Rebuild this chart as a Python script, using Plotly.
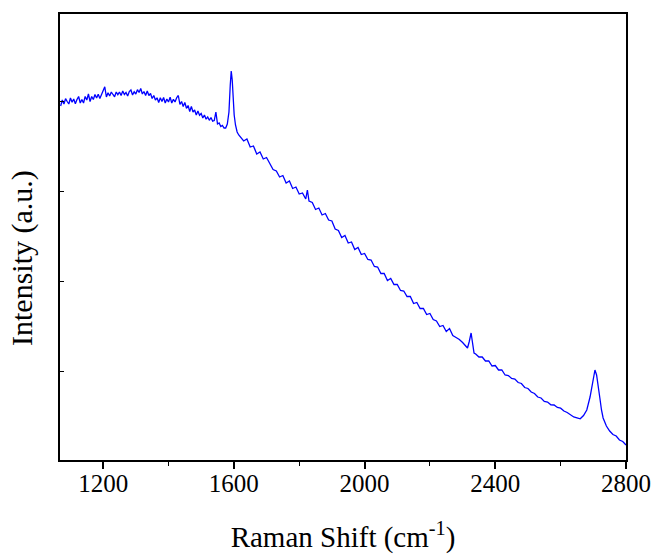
import plotly.graph_objects as go

# Raman shift (cm^-1)
raman_shift = [
    1070, 1075, 1080, 1085, 1090, 1095, 1100, 1105, 1110, 1115, 1120, 1125, 1130, 1135, 1140,
    1145, 1150, 1155, 1160, 1165, 1170, 1175, 1180, 1185, 1190, 1195, 1200, 1205, 1210, 1215,
    1220, 1225, 1230, 1235, 1240, 1245, 1250, 1255, 1260, 1265, 1270, 1275, 1280, 1285, 1290,
    1295, 1300, 1305, 1310, 1315, 1320, 1325, 1330, 1335, 1340, 1345, 1350, 1355, 1360, 1365,
    1370, 1375, 1380, 1385, 1390, 1395, 1400, 1405, 1410, 1415, 1420, 1425, 1430, 1435, 1440,
    1445, 1450, 1455, 1460, 1465, 1470, 1475, 1480, 1485, 1490, 1495, 1500, 1505, 1510, 1515,
    1520, 1525, 1530, 1535, 1540, 1545, 1550, 1555, 1560, 1565, 1570, 1575, 1580, 1585, 1589,
    1592, 1595, 1598, 1601, 1605, 1610, 1615, 1620, 1630, 1640, 1650, 1660, 1670, 1680, 1690,
    1700, 1710, 1720, 1730, 1740, 1750, 1760, 1770, 1780, 1790, 1800, 1810, 1820, 1825, 1830,
    1840, 1850, 1860, 1870, 1880, 1890, 1900, 1910, 1920, 1930, 1940, 1950, 1960, 1970, 1980,
    1990, 2000, 2010, 2020, 2030, 2040, 2050, 2060, 2070, 2080, 2090, 2100, 2110, 2120, 2130,
    2140, 2150, 2160, 2170, 2180, 2190, 2200, 2210, 2220, 2230, 2240, 2250, 2260, 2270, 2280,
    2290, 2300, 2310, 2315, 2320, 2326, 2330, 2335, 2340, 2350, 2360, 2370, 2380, 2390, 2400,
    2410, 2420, 2430, 2440, 2450, 2460, 2470, 2480, 2490, 2500, 2510, 2520, 2530, 2540, 2550,
    2560, 2570, 2580, 2590, 2600, 2610, 2620, 2630, 2640, 2650, 2660, 2670, 2680, 2690, 2695,
    2700, 2705, 2710, 2715, 2720, 2725, 2730, 2740, 2750, 2760, 2770, 2780, 2790, 2800,
]

# Intensity (a.u.)
intensity = [
    3540, 3600, 3560, 3613, 3585, 3560, 3620, 3577, 3610, 3563, 3605, 3635, 3570, 3605, 3570,
    3635, 3600, 3660, 3585, 3635, 3605, 3655, 3620, 3657, 3615, 3653, 3675, 3732, 3630, 3673,
    3640, 3680, 3655, 3632, 3680, 3653, 3680, 3645, 3690, 3655, 3675, 3640, 3685, 3700, 3650,
    3682, 3660, 3703, 3675, 3715, 3660, 3685, 3645, 3690, 3645, 3665, 3615, 3645, 3600, 3622,
    3575, 3622, 3585, 3625, 3570, 3610, 3580, 3628, 3570, 3607, 3580, 3623, 3645, 3555, 3585,
    3535, 3575, 3517, 3545, 3485, 3535, 3480, 3500, 3450, 3490, 3447, 3465, 3420, 3450, 3408,
    3430, 3397, 3425, 3388, 3395, 3480, 3360, 3370, 3335, 3345, 3320, 3320, 3360, 3480, 3750,
    3890, 3800, 3620, 3450, 3350, 3280, 3250, 3230, 3190, 3210, 3130, 3140, 3060, 3080, 3010,
    3025, 2960, 2905, 2890, 2830, 2845, 2770, 2790, 2715, 2730, 2660, 2670, 2610, 2700, 2590,
    2575, 2505, 2520, 2450, 2465, 2400, 2390, 2310, 2295, 2225, 2245, 2170, 2180, 2105, 2125,
    2055, 2065, 2005, 2000, 1935, 1930, 1865, 1865, 1795, 1815, 1755, 1755, 1695, 1690, 1635,
    1635, 1565, 1575, 1515, 1515, 1455, 1465, 1405, 1390, 1335, 1345, 1285, 1315, 1245, 1225,
    1205, 1175, 1145, 1120, 1180, 1270, 1180, 1070, 1060, 1030, 1030, 990, 990, 940, 945,
    900, 900, 850, 845, 815, 810, 775, 765, 725, 715, 680, 665, 630, 620, 585,
    580, 552, 550, 525, 518, 490, 475, 452, 430, 422, 412, 445, 500, 630, 720,
    840, 900, 850, 750, 620, 500, 420, 340, 290, 255, 240, 200, 185, 150,
]

x_ticks = [1200, 1600, 2000, 2400, 2800]
x_minor_ticks = [1400, 1800, 2200, 2600]
y_ticks = [890, 1790, 2690, 3590]

fig = go.Figure()
fig.add_trace(go.Scatter(
    x=raman_shift, y=intensity, mode="lines",
    line=dict(color="#0000FF", width=1.3),
    showlegend=False,
))

font_family = "Liberation Serif, Times New Roman, serif"

fig.update_layout(
    width=657, height=556,
    margin=dict(l=60, r=31, t=14, b=96),
    paper_bgcolor="white", plot_bgcolor="white",
    font=dict(family=font_family, color="black"),
)

fig.update_xaxes(
    range=[1068, 2800], automargin=False,
    tickmode="array", tickvals=x_ticks, ticktext=[str(v) for v in x_ticks],
    ticks="outside", ticklen=7, tickwidth=1.5, tickcolor="black",
    ticklabelstandoff=-7,
    minor=dict(tickvals=x_minor_ticks, ticks="outside", ticklen=4,
               tickwidth=1.2, tickcolor="black"),
    showline=True, linecolor="black", linewidth=1.6, mirror=True,
    showgrid=False, zeroline=False,
    tickfont=dict(size=25, family=font_family),
    title=dict(text="Raman Shift (cm<sup>-1</sup>)", font=dict(size=29, family=font_family),
               standoff=31),
)

fig.update_yaxes(
    range=[0, 4460], automargin=False,
    tickmode="array", tickvals=y_ticks, showticklabels=False,
    ticks="inside", ticklen=4, tickwidth=1.2, tickcolor="black",
    showline=True, linecolor="black", linewidth=1.6, mirror=True,
    showgrid=False, zeroline=False,
)

fig.add_annotation(
    text="Intensity (a.u.)", textangle=-90,
    xref="paper", yref="paper", x=(22 - 60) / 566, y=(460 - 258) / 446,
    xanchor="center", yanchor="middle", showarrow=False,
    font=dict(size=30, family=font_family, color="black"),
)

fig.write_html("out.html")
